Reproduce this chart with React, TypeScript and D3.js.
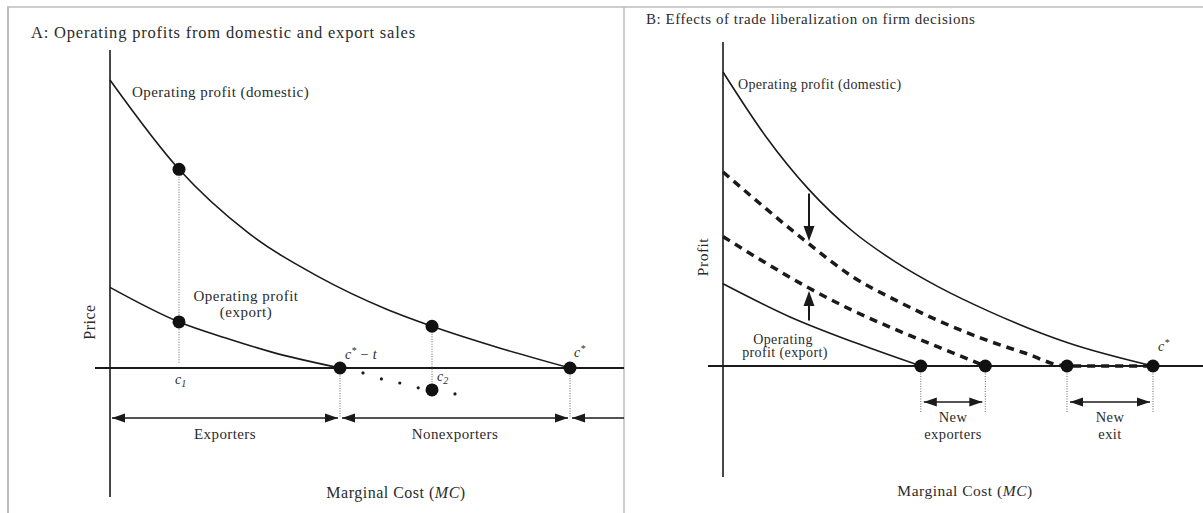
import { useEffect, useRef } from 'react'
import * as d3 from 'd3'

// Panel A: operating profit vs marginal cost (arbitrary units, c* = 100)
const mcDomesticA = [0, 15, 30, 45, 60, 70, 85, 100]
const profitDomesticA = [100, 69, 47, 32, 20.5, 14.5, 6.8, 0]
const mcExportA = [0, 15, 25, 35, 50]
const profitExportA = [28, 16, 10.5, 5.6, 0]
// dotted continuation of export profit below zero
const mcTrailA = [55, 59, 63, 67, 75]
const profitTrailA = [-1.7, -3.8, -5.2, -6.9, -9]
// big dots
const dotMcA = [15, 15, 50, 70, 70, 100]
const dotProfitA = [69, 16, 0, 14.5, -7.6, 0]
// cutoffs and bracket labels
const cutoffsA = [0, 50, 100]
const bracketLabelsA = ['Exporters', 'Nonexporters']

// Panel B: effects of trade liberalization
const mcDomesticB = [0, 10, 20, 30, 40, 50, 62, 80, 100]
const profitDomesticB = [100, 78, 60, 46, 35.5, 27, 18.5, 8, 0]
const mcNewDomesticB = [0, 10, 20, 30, 40, 50, 60, 70, 80, 100]
const profitNewDomesticB = [66, 53.5, 41.5, 30.5, 22.5, 15.5, 9.5, 4.5, 0, 0]
const mcNewExportB = [0, 10, 20, 30, 40, 50, 61]
const profitNewExportB = [44, 35, 26.5, 19, 12.5, 6.5, 0]
const mcExportB = [0, 15.6, 31, 46]
const profitExportB = [28, 16.7, 7.8, 0]
const dotMcB = [46, 61, 80, 100]
const shiftMcB = 20
const bracketsB = [
  [46, 61],
  [80, 100],
]
const bracketLabelsB = [
  ['New', 'exporters'],
  ['New', 'exit'],
]

const FONT = '"Liberation Serif", "DejaVu Serif", serif'
const INK = '#1a1a1a'
const TEXT = '#2b2b2b'

const App = () => {
  const svgRef = useRef<SVGSVGElement>(null)

  useEffect(() => {
    const svg = d3.select(svgRef.current)
    svg.selectAll('*').remove()

    // panel frames
    const frame = svg.append('g').attr('stroke', '#bdbdbd').attr('fill', 'none')
    frame.append('line').attr('x1', 7).attr('x2', 1203).attr('y1', 7).attr('y2', 7).attr('stroke-width', 1.5)
    frame.append('line').attr('x1', 8).attr('x2', 8).attr('y1', 7).attr('y2', 513).attr('stroke-width', 2)
    frame.append('line').attr('x1', 624).attr('x2', 624).attr('y1', 7).attr('y2', 513).attr('stroke-width', 1.5)

    const line = (xs: d3.ScaleLinear<number, number>, ys: d3.ScaleLinear<number, number>) =>
      d3
        .line<number[]>()
        .x((d) => xs(d[0]))
        .y((d) => ys(d[1]))
        .curve(d3.curveMonotoneX)

    const zip = (a: number[], b: number[]) => a.map((v, i) => [v, b[i]])

    const text = (g: any, x: number, y: number, s: string, size: number, anchor = 'start', ls = 0.4) =>
      g
        .append('text')
        .attr('x', x)
        .attr('y', y)
        .attr('text-anchor', anchor)
        .style('font-family', FONT)
        .style('font-size', size + 'px')
        .style('letter-spacing', ls + 'px')
        .style('fill', TEXT)
        .text(s)

    const head = (g: any, x: number, y: number, dir: string, len = 13, half = 4.5) => {
      let pts: number[][] = []
      if (dir === 'left') pts = [[x, y], [x + len, y - half], [x + len, y + half]]
      if (dir === 'right') pts = [[x, y], [x - len, y - half], [x - len, y + half]]
      if (dir === 'up') pts = [[x, y], [x - half, y + len], [x + half, y + len]]
      if (dir === 'down') pts = [[x, y], [x - half, y - len], [x + half, y - len]]
      g.append('path').attr('d', 'M' + pts.join('L') + 'Z').attr('fill', INK)
    }

    const cLabel = (g: any, x: number, y: number, sup: string, sub: string, tail = '') => {
      const t = g
        .append('text')
        .attr('x', x)
        .attr('y', y)
        .style('font-family', FONT)
        .style('font-size', '14px')
        .style('font-style', 'italic')
        .style('fill', TEXT)
      t.append('tspan').text('c')
      if (sup) t.append('tspan').attr('dy', -5).style('font-size', '10px').text(sup)
      if (sub) t.append('tspan').attr('dy', 3).style('font-size', '10px').text(sub)
      if (tail) t.append('tspan').attr('dy', 5).text(tail)
    }

    const mcLabel = (g: any, x: number, y: number, size: number) => {
      const t = g
        .append('text')
        .attr('x', x)
        .attr('y', y)
        .attr('text-anchor', 'middle')
        .style('font-family', FONT)
        .style('font-size', size + 'px')
        .style('letter-spacing', '0.5px')
        .style('fill', TEXT)
      t.append('tspan').text('Marginal Cost (')
      t.append('tspan').style('font-style', 'italic').text('MC')
      t.append('tspan').text(')')
    }

    const dotted = (g: any, x: number, y1: number, y2: number) =>
      g
        .append('line')
        .attr('x1', x)
        .attr('x2', x)
        .attr('y1', y1)
        .attr('y2', y2)
        .attr('stroke', '#666')
        .attr('stroke-width', 1)
        .attr('stroke-dasharray', '1,1.5')

    // ---------------- Panel A ----------------
    const xA = d3.scaleLinear().domain([0, 100]).range([110, 570])
    const yA = d3.scaleLinear().domain([0, 100]).range([368, 80])
    const gA = svg.append('g')

    text(gA, 31, 38, 'A: Operating profits from domestic and export sales', 16.5, 'start', 0.8)

    // axes
    gA.append('line').attr('x1', xA(0)).attr('x2', xA(0)).attr('y1', 50).attr('y2', 497).attr('stroke', INK).attr('stroke-width', 1.6)
    gA.append('line').attr('x1', 95).attr('x2', 624).attr('y1', yA(0)).attr('y2', yA(0)).attr('stroke', INK).attr('stroke-width', 1.8)

    // dotted verticals
    dotted(gA, xA(15), yA(69), yA(0) - 4)
    dotted(gA, xA(50), yA(0), 418)
    dotted(gA, xA(70), yA(14.5), yA(-7.6))
    dotted(gA, xA(100), yA(0), 418)

    // curves
    const lA = line(xA, yA)
    gA.append('path').attr('d', lA(zip(mcDomesticA, profitDomesticA))).attr('fill', 'none').attr('stroke', INK).attr('stroke-width', 1.6)
    gA.append('path').attr('d', lA(zip(mcExportA, profitExportA))).attr('fill', 'none').attr('stroke', INK).attr('stroke-width', 1.6)

    gA.selectAll('.trail')
      .data(zip(mcTrailA, profitTrailA))
      .enter()
      .append('circle')
      .attr('cx', (d: number[]) => xA(d[0]))
      .attr('cy', (d: number[]) => yA(d[1]))
      .attr('r', 1.6)
      .attr('fill', INK)

    gA.selectAll('.dot')
      .data(zip(dotMcA, dotProfitA))
      .enter()
      .append('circle')
      .attr('cx', (d: number[]) => xA(d[0]))
      .attr('cy', (d: number[]) => yA(d[1]))
      .attr('r', 6.5)
      .attr('fill', '#111')

    // labels
    text(gA, 132, 97, 'Operating profit (domestic)', 15, 'start', 0.45)
    text(gA, 246, 301, 'Operating profit', 15, 'middle', 0.5)
    text(gA, 246, 317, '(export)', 15, 'middle', 0.5)
    cLabel(gA, xA(15) - 4, 384, '', '1')
    cLabel(gA, xA(50) + 5, 359, '*', '', ' − t')
    cLabel(gA, xA(70) + 5, 381, '', '2')
    cLabel(gA, xA(100) + 4, 357, '*', '')

    // brackets
    const yBr = 418
    cutoffsA.slice(0, -1).forEach((c, i) => {
      const x1 = xA(c) + 2
      const x2 = xA(cutoffsA[i + 1]) - 2
      gA.append('line').attr('x1', x1).attr('x2', x2).attr('y1', yBr).attr('y2', yBr).attr('stroke', INK).attr('stroke-width', 1.6)
      head(gA, x1, yBr, 'left')
      head(gA, x2, yBr, 'right')
      text(gA, (x1 + x2) / 2, 439, bracketLabelsA[i], 15, 'middle', 0.4)
    })
    gA.append('line').attr('x1', xA(100) + 2).attr('x2', 624).attr('y1', yBr).attr('y2', yBr).attr('stroke', INK).attr('stroke-width', 1.6)
    head(gA, xA(100) + 2, yBr, 'left')

    mcLabel(gA, 396, 498, 16)
    text(gA, 0, 0, 'Price', 16, 'middle', 0.5).attr('transform', 'translate(95,322) rotate(-90)')

    // ---------------- Panel B ----------------
    const xB = d3.scaleLinear().domain([0, 100]).range([723, 1153])
    const yB = d3.scaleLinear().domain([0, 100]).range([366, 72])
    const gB = svg.append('g')

    text(gB, 646, 24, 'B: Effects of trade liberalization on firm decisions', 15, 'start', 0.55)

    gB.append('line').attr('x1', xB(0)).attr('x2', xB(0)).attr('y1', 42).attr('y2', 477).attr('stroke', INK).attr('stroke-width', 1.6)
    gB.append('line').attr('x1', 708).attr('x2', 1203).attr('y1', yB(0)).attr('y2', yB(0)).attr('stroke', INK).attr('stroke-width', 1.8)

    dotMcB.forEach((c) => dotted(gB, xB(c), yB(0), 413))

    const lB = line(xB, yB)
    gB.append('path').attr('d', lB(zip(mcDomesticB, profitDomesticB))).attr('fill', 'none').attr('stroke', INK).attr('stroke-width', 1.6)
    gB.append('path').attr('d', lB(zip(mcExportB, profitExportB))).attr('fill', 'none').attr('stroke', INK).attr('stroke-width', 1.6)
    gB.append('path').attr('d', lB(zip(mcNewDomesticB, profitNewDomesticB))).attr('fill', 'none').attr('stroke', INK).attr('stroke-width', 3.5).attr('stroke-dasharray', '8,6')
    gB.append('path').attr('d', lB(zip(mcNewExportB, profitNewExportB))).attr('fill', 'none').attr('stroke', INK).attr('stroke-width', 3.5).attr('stroke-dasharray', '8,6')

    gB.selectAll('.dot')
      .data(dotMcB)
      .enter()
      .append('circle')
      .attr('cx', (d: number) => xB(d))
      .attr('cy', yB(0))
      .attr('r', 6.5)
      .attr('fill', '#111')

    // shift arrows at MC = 20
    const interp = (xs: number[], ys: number[], v: number) => {
      const i = d3.bisectLeft(xs, v)
      if (xs[i] === v) return ys[i]
      const t = (v - xs[i - 1]) / (xs[i] - xs[i - 1])
      return ys[i - 1] + t * (ys[i] - ys[i - 1])
    }
    const xs = xB(shiftMcB)
    const dTop = yB(interp(mcDomesticB, profitDomesticB, shiftMcB)) + 4
    const dTip = yB(interp(mcNewDomesticB, profitNewDomesticB, shiftMcB)) - 3
    gB.append('line').attr('x1', xs).attr('x2', xs).attr('y1', dTop).attr('y2', dTip - 10).attr('stroke', INK).attr('stroke-width', 2)
    head(gB, xs, dTip, 'down', 15, 5.5)
    const uBot = yB(interp(mcExportB, profitExportB, shiftMcB)) - 4
    const uTip = yB(interp(mcNewExportB, profitNewExportB, shiftMcB)) + 3
    gB.append('line').attr('x1', xs).attr('x2', xs).attr('y1', uBot).attr('y2', uTip + 10).attr('stroke', INK).attr('stroke-width', 2)
    head(gB, xs, uTip, 'up', 15, 5.5)

    // brackets
    bracketsB.forEach((b, i) => {
      const x1 = xB(b[0]) + 3
      const x2 = xB(b[1]) - 3
      gB.append('line').attr('x1', x1).attr('x2', x2).attr('y1', 402).attr('y2', 402).attr('stroke', INK).attr('stroke-width', 1.6)
      head(gB, x1, 402, 'left', 13, 4.5)
      head(gB, x2, 402, 'right', 13, 4.5)
      text(gB, (x1 + x2) / 2, 422, bracketLabelsB[i][0], 14.5, 'middle', 0.4)
      text(gB, (x1 + x2) / 2, 439, bracketLabelsB[i][1], 14.5, 'middle', 0.4)
    })

    text(gB, 738, 89, 'Operating profit (domestic)', 14, 'start', 0.35)
    text(gB, 783, 344, 'Operating', 14, 'middle', 0.4)
    text(gB, 785, 357, 'profit (export)', 14, 'middle', 0.4)
    cLabel(gB, xB(100) + 5, 351, '*', '')

    mcLabel(gB, 965, 496, 15.5)
    text(gB, 0, 0, 'Profit', 15.5, 'middle', 0.5).attr('transform', 'translate(708,257) rotate(-90)')
  }, [])

  return (
    <svg
      ref={svgRef}
      width={1203}
      height={513}
      style={{ position: 'absolute', left: 0, top: 0, background: '#fff' }}
    />
  )
}

export default App
